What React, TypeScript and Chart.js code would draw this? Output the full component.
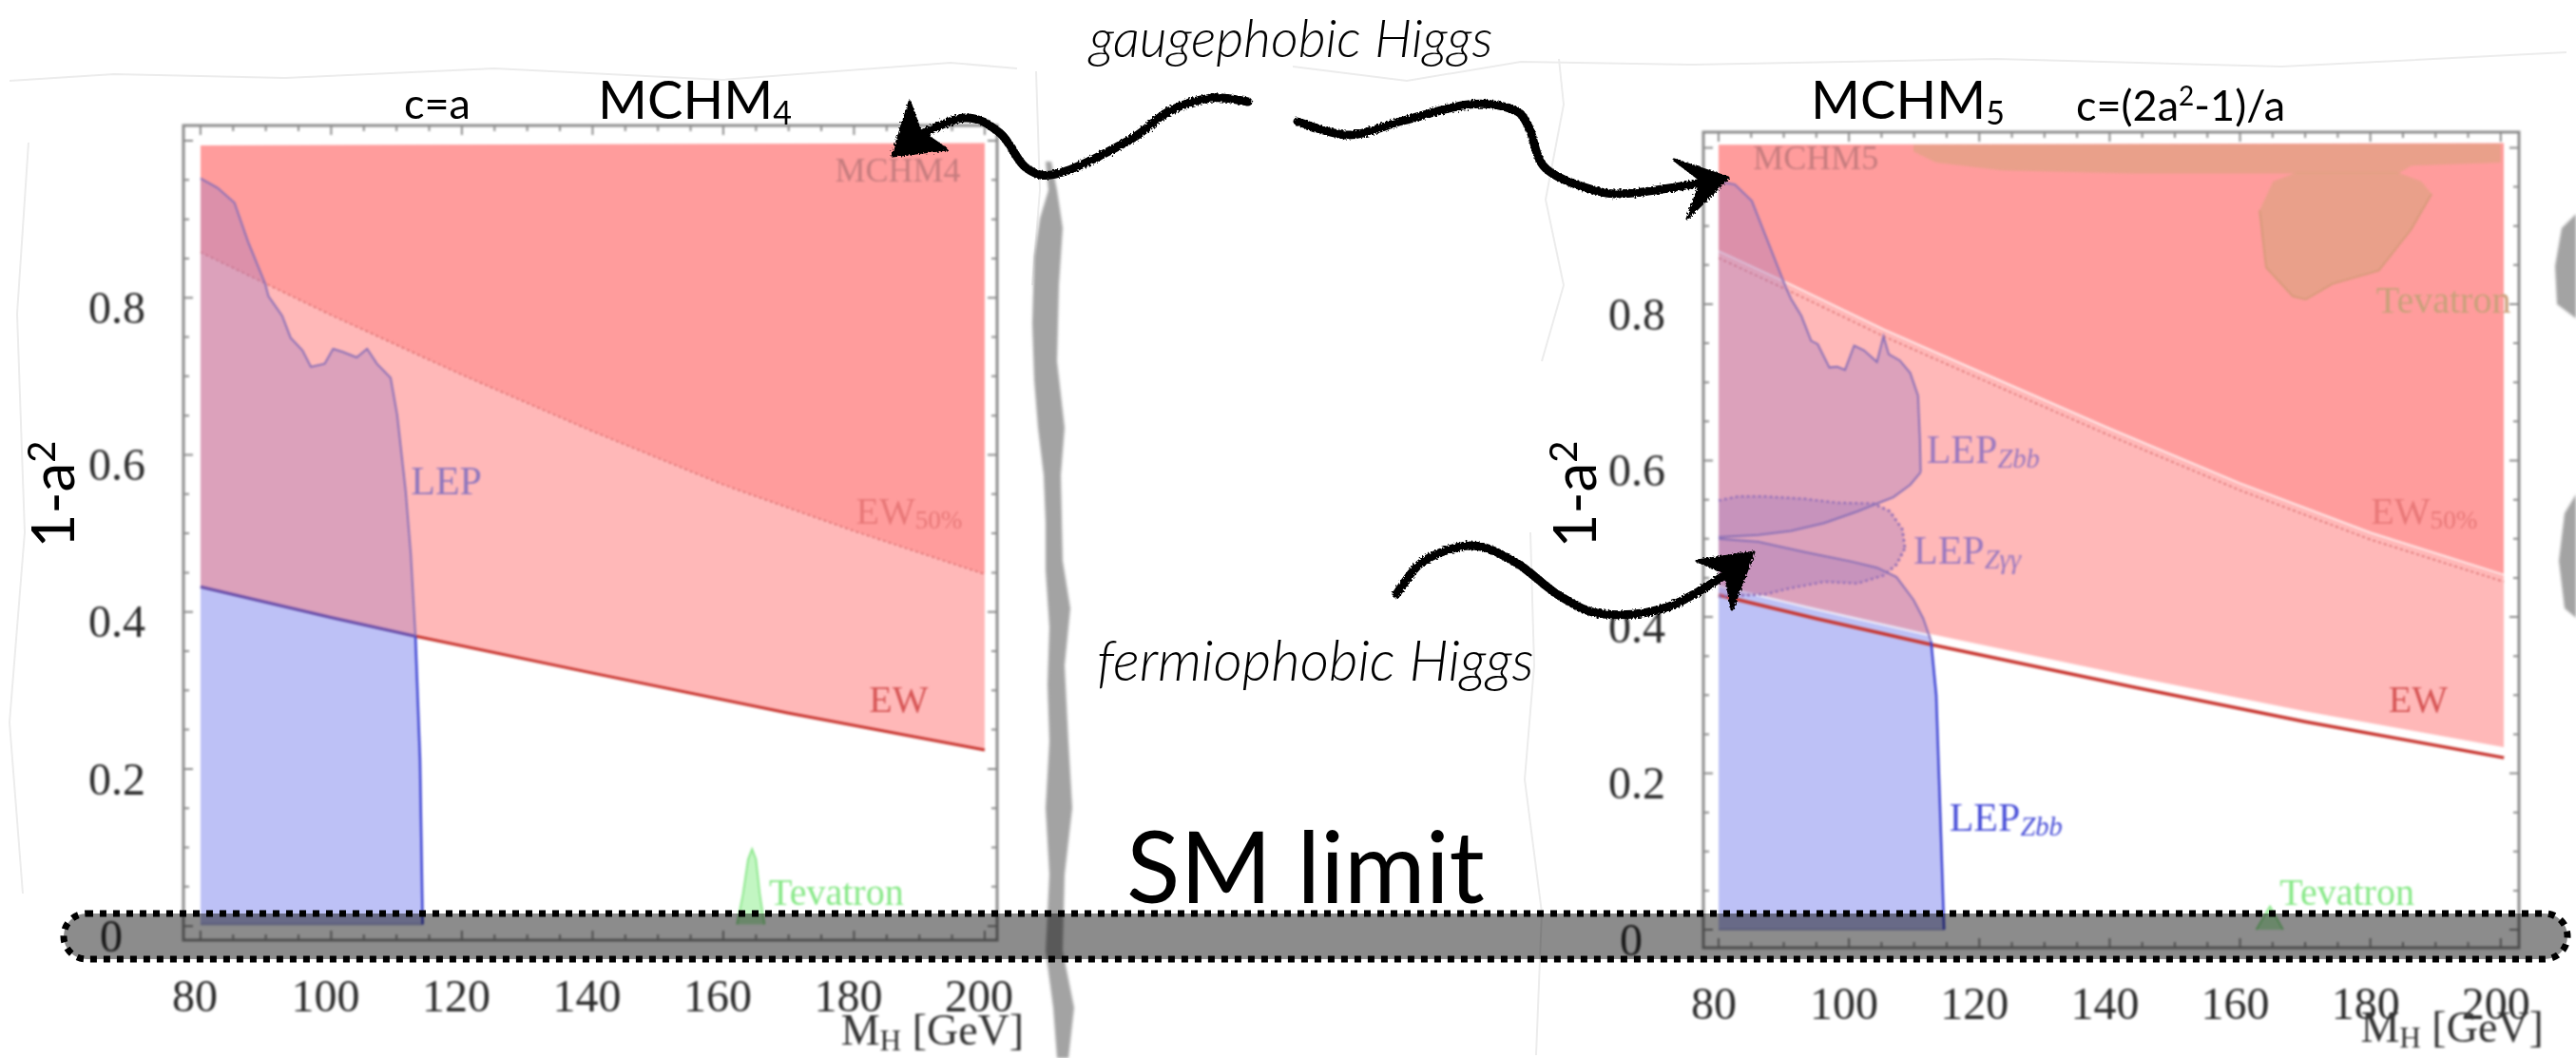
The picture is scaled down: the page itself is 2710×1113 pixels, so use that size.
import React, { useEffect, useLayoutEffect, useRef } from "react";
import { Chart, registerables } from "chart.js";

Chart.register(...registerables);

type Pt = [number, number];

// ---- axis ticks
const xTickValues = [80, 100, 120, 140, 160, 180, 200];
const yTickValues = [0, 0.2, 0.4, 0.6, 0.8];

// ---- MCHM4 panel
const m4Top: Pt[] = [[80, 0.994], [200, 0.997]];
const m4Ew: Pt[] = [[80, 0.432], [100, 0.393], [112.9, 0.369], [140, 0.322], [170, 0.271], [200, 0.224]];
const m4Ew50: Pt[] = [[80, 0.858], [100, 0.778], [120, 0.702], [140, 0.63], [160, 0.562], [180, 0.503], [200, 0.448]];
const m4LepUpper: Pt[] = [[80, 0.952], [82.6, 0.94], [85.2, 0.921], [87.3, 0.871], [89.9, 0.818], [90.4, 0.802], [92.5, 0.777], [93.8, 0.749], [95.6, 0.733], [96.9, 0.712], [99, 0.716], [100.3, 0.735], [101.8, 0.731], [103.9, 0.724], [105.5, 0.735], [107, 0.716], [109.1, 0.698], [110.1, 0.651], [111.4, 0.554], [112.2, 0.472], [112.9, 0.369]];
const m4LepLower: Pt[] = [[112.9, 0.369], [113.6, 0.212], [114, 0.002]];
const m4Tevatron: Pt[] = [[162.1, 0.002], [163, 0.04], [163.8, 0.085], [164.4, 0.098], [165, 0.085], [165.6, 0.04], [166.3, 0.002]];
const m4Base: Pt[] = [[80, 0.002], [114, 0.002]];
const m4TevBase: Pt[] = [[162.1, 0.002], [166.3, 0.002]];

// ---- MCHM5 panel
const m5Top: Pt[] = [[80, 1.004], [200.5, 1.006]];
const m5Ew: Pt[] = [[80, 0.428], [95, 0.398], [112.4, 0.365], [143.8, 0.31], [170, 0.266], [200.5, 0.22]];
const m5EwEdge: Pt[] = [[80, 0.44], [95, 0.41], [112.4, 0.377], [143.8, 0.322], [170, 0.278], [200.5, 0.232]];
const m5Ew50: Pt[] = [[80, 0.859], [91.1, 0.816], [105.3, 0.759], [120, 0.705], [140, 0.632], [160, 0.562], [180, 0.499], [200.5, 0.445]];
const m5Ew50Edge: Pt[] = [[80, 0.868], [91.1, 0.825], [105.3, 0.768], [120, 0.714], [140, 0.641], [160, 0.571], [180, 0.508], [200.5, 0.454]];
const m5ZbbUpper: Pt[] = [[80, 0.957], [82.5, 0.953], [85.1, 0.932], [87.6, 0.879], [90.3, 0.822], [91.1, 0.807], [92.7, 0.785], [94.2, 0.753], [95.2, 0.749], [97, 0.719], [98.2, 0.72], [99.4, 0.716], [100.8, 0.747], [102.3, 0.741], [104.3, 0.726], [105.3, 0.759], [106.1, 0.736], [107.8, 0.728], [109.4, 0.712], [110.6, 0.683], [110.9, 0.626], [111, 0.585]];
const m5ZbbMiddle: Pt[] = [[80, 0.502], [86.1, 0.505], [91.1, 0.51], [96.2, 0.52], [101.3, 0.535], [104.3, 0.545], [106.8, 0.553], [109.4, 0.569], [111, 0.585]];
const m5ZbbLower: Pt[] = [[80, 0.5], [86.1, 0.496], [93.2, 0.483], [100.3, 0.471], [104.3, 0.463], [107.3, 0.451], [109.9, 0.422], [111.4, 0.398], [112.6, 0.369]];
const m5ZbbTail: Pt[] = [[112.6, 0.369], [113.4, 0.3], [113.9, 0.177], [114.6, 0.0]];
const m5ZggUpper: Pt[] = [[80, 0.549], [83, 0.554], [87.1, 0.554], [93.2, 0.551], [98.2, 0.546], [103.8, 0.545], [106.3, 0.535], [108.2, 0.512], [108.6, 0.488]];
const m5ZggLower: Pt[] = [[80, 0.426], [87.1, 0.429], [91.1, 0.437], [96.2, 0.445], [101.3, 0.443], [105.3, 0.453], [107.3, 0.467], [108.6, 0.488]];
const m5TevBandTop: Pt[] = [[109.6, 1.004], [200, 1.005]];
const m5TevBandLow: Pt[] = [[109.9, 0.995], [113.4, 0.981], [123.5, 0.971], [143.8, 0.967], [164, 0.967], [184.3, 0.967], [186.3, 0.977], [200, 0.981]];
const m5TevBlobTop: Pt[] = [[163, 0.92], [165.1, 0.957], [168.6, 0.968], [184.3, 0.968], [187.8, 0.957], [189.4, 0.941]];
const m5TevBlobLow: Pt[] = [[163, 0.92], [164, 0.847], [168.1, 0.81], [170.1, 0.806], [174.2, 0.826], [181.3, 0.843], [186.3, 0.896], [189.4, 0.941]];
const m5TevSmall: Pt[] = [[162.5, 0.0], [164.6, 0.03], [166.6, 0.0]];
const m5TevSmallBase: Pt[] = [[162.5, 0.0], [166.6, 0.0]];
const m5Base: Pt[] = [[80, 0.0], [114.6, 0.0]];

// ---- colours
const PINK = "rgba(255,0,0,0.278)";
const DARK = "rgba(255,0,0,0.152)";
const PURPLE = "rgba(167,124,189,0.4)";
const PURPLE_LINE = "#8a6fb6";
const BLUE_FILL = "#bdc1f6";
const BLUE_LINE = "#3d44d2";
const RED_LINE = "#c8352f";
const GREEN = "rgba(120,235,120,0.45)";
const GREEN_LINE = "#8fe88f";
const BLOB = "rgba(170,170,85,0.26)";
const SERIF = '"Liberation Serif", serif';

type Run = { t: string; sub?: boolean; italic?: boolean };
type Label = { x: number; y: number; runs: Run[]; color: string; size: number };

const m4Labels: Label[] = [
  { x: 177.1, y: 0.959, runs: [{ t: "MCHM4" }], color: "#c67c7e", size: 36 },
  { x: 112.2, y: 0.563, runs: [{ t: "LEP" }], color: "#8f76bd", size: 42 },
  { x: 180.3, y: 0.525, runs: [{ t: "EW" }, { t: "50%", sub: true }], color: "#e87878", size: 40 },
  { x: 182.3, y: 0.285, runs: [{ t: "EW" }], color: "#d65555", size: 40 },
  { x: 167, y: 0.04, runs: [{ t: "Tevatron" }], color: "#86e886", size: 40 },
  { x: 178, y: -0.137, runs: [{ t: "M" }, { t: "H", sub: true }, { t: " [GeV]" }], color: "#333", size: 46 },
];
const m5Labels: Label[] = [
  { x: 85.3, y: 0.984, runs: [{ t: "MCHM5" }], color: "#c67c7e", size: 36 },
  { x: 180.9, y: 0.802, runs: [{ t: "Tevatron" }], color: "#c9a07a", size: 40 },
  { x: 111.9, y: 0.61, runs: [{ t: "LEP" }, { t: "Zbb", sub: true, italic: true }], color: "#9a78bf", size: 42 },
  { x: 109.9, y: 0.481, runs: [{ t: "LEP" }, { t: "Zγγ", sub: true, italic: true }], color: "#9a78bf", size: 42 },
  { x: 180.1, y: 0.532, runs: [{ t: "EW" }, { t: "50%", sub: true }], color: "#e87878", size: 40 },
  { x: 182.8, y: 0.291, runs: [{ t: "EW" }], color: "#d65555", size: 40 },
  { x: 115.4, y: 0.14, runs: [{ t: "LEP" }, { t: "Zbb", sub: true, italic: true }], color: "#4a50d8", size: 42 },
  { x: 166.1, y: 0.045, runs: [{ t: "Tevatron" }], color: "#86e886", size: 40 },
  { x: 178.5, y: -0.129, runs: [{ t: "M" }, { t: "H", sub: true }, { t: " [GeV]" }], color: "#333", size: 46 },
];

const pts = (a: Pt[]) => a.map(([x, y]) => ({ x, y }));

const fillDs = (id: string, d: Pt[], target: number | string | object | boolean, color: string, order: number) => ({
  label: id, data: pts(d), borderWidth: 0, pointRadius: 0, tension: 0, fill: target, backgroundColor: color, order,
});
const lineDs = (id: string, d: Pt[], color: string, width: number, order: number, extra: object = {}) => ({
  label: id, data: pts(d), borderColor: color, borderWidth: width, pointRadius: 0, tension: 0, fill: false, order, ...extra,
});

function m4Datasets() {
  const viaEw = { segment: { borderColor: (c: any) => (c.p0.parsed.x < 112.8 ? "#5a3fa0" : RED_LINE) } };
  return [
    lineDs("EW", m4Ew, RED_LINE, 3, 2, viaEw), // 0
    lineDs("EW 50%", m4Ew50, "#d96a6a", 1.5, 2, { borderDash: [3, 3] }), // 1
    fillDs("MCHM4", m4Top, 0, PINK, 9), // 2
    fillDs("MCHM4 strong", m4Top, 1, DARK, 8), // 3
    fillDs("LEP area", [...m4Ew.filter((p) => p[0] < 112.9), ...m4LepLower], { value: 0.002 }, BLUE_FILL, 10), // 4
    lineDs("LEP", m4LepUpper, PURPLE_LINE, 2, 1, { fill: 0, backgroundColor: PURPLE }), // 5
    lineDs("LEP tail", m4LepLower, BLUE_LINE, 2.5, 1), // 6
    lineDs("Tevatron", m4Tevatron, GREEN_LINE, 2, 3, { fill: 8, backgroundColor: GREEN }), // 7
    lineDs("Tevatron base", m4TevBase, "rgba(0,0,0,0)", 0, 4), // 8
    lineDs("Base", m4Base, "rgba(90,95,176,0.35)", 2, 4), // 9
  ];
}

function m5Datasets() {
  return [
    lineDs("EW", m5Ew, RED_LINE, 3.5, 2), // 0
    lineDs("EW edge", m5EwEdge, "rgba(255,255,255,0.9)", 2.5, 3), // 1
    lineDs("EW 50%", m5Ew50, "#d96a6a", 1.5, 2, { borderDash: [3, 3] }), // 2
    lineDs("EW 50% edge", m5Ew50Edge, "rgba(255,255,255,0.7)", 2, 3), // 3
    fillDs("MCHM5", m5Top, 1, PINK, 9), // 4
    fillDs("MCHM5 strong", m5Top, 3, DARK, 8), // 5
    fillDs("Zbb area", [...m5EwEdge.filter((p) => p[0] < 112.4), [112.4, 0.376], ...m5ZbbTail.slice(1)], { value: 0 }, BLUE_FILL, 10), // 6
    lineDs("Zbb lower", m5ZbbLower, PURPLE_LINE, 2, 1, { fill: 1, backgroundColor: PURPLE }), // 7
    lineDs("Zbb tail", m5ZbbTail, BLUE_LINE, 2.5, 1), // 8
    lineDs("Zbb middle", m5ZbbMiddle, PURPLE_LINE, 2, 1), // 9
    lineDs("Zbb upper", m5ZbbUpper, PURPLE_LINE, 2, 1, { fill: 9, backgroundColor: PURPLE }), // 10
    lineDs("Zgg lower", m5ZggLower, "#8a68b4", 2.5, 1, { borderDash: [3, 3] }), // 11
    lineDs("Zgg upper", m5ZggUpper, "#8a68b4", 2.5, 1, { borderDash: [3, 3], fill: 11, backgroundColor: PURPLE }), // 12
    fillDs("Tevatron band low", m5TevBandLow, false, "rgba(0,0,0,0)", 6), // 13
    fillDs("Tevatron band", m5TevBandTop, 13, BLOB, 6), // 14
    lineDs("Tevatron blob low", m5TevBlobLow, "rgba(190,150,100,0.5)", 2, 5), // 15
    lineDs("Tevatron blob", m5TevBlobTop, "rgba(0,0,0,0)", 0, 5, { fill: 15, backgroundColor: BLOB }), // 16
    lineDs("Tevatron", m5TevSmall, GREEN_LINE, 2, 3, { fill: 18, backgroundColor: GREEN }), // 17
    lineDs("Tevatron base", m5TevSmallBase, "rgba(0,0,0,0)", 0, 4), // 18
    lineDs("Base", m5Base, "rgba(90,95,176,0.35)", 2, 4), // 19
  ];
}

const range = (a: number, b: number, step: number) => {
  const out: number[] = [];
  for (let v = a; v <= b + 1e-9; v += step) out.push(Math.round(v * 1000) / 1000);
  return out;
};

function makeFramePlugin(labels: Label[]) {
  return {
    id: "frameAndLabels",
    afterDraw(chart: any) {
      const { ctx, chartArea: a, scales } = chart;
      ctx.save();
      ctx.strokeStyle = "#8d8d8d";
      ctx.lineWidth = 3;
      ctx.strokeRect(a.left, a.top, a.right - a.left, a.bottom - a.top);
      ctx.lineWidth = 2;
      ctx.beginPath();
      for (const v of range(80, 200, 5)) {
        const p = scales.x.getPixelForValue(v);
        const len = v % 20 === 0 ? 10 : 6;
        ctx.moveTo(p, a.bottom); ctx.lineTo(p, a.bottom - len);
        ctx.moveTo(p, a.top); ctx.lineTo(p, a.top + len);
      }
      for (const v of range(0, 1, 0.05)) {
        const p = scales.y.getPixelForValue(v);
        const len = Math.round(v * 100) % 20 === 0 ? 10 : 6;
        ctx.moveTo(a.left, p); ctx.lineTo(a.left + len, p);
        ctx.moveTo(a.right, p); ctx.lineTo(a.right - len, p);
      }
      ctx.stroke();
      ctx.textBaseline = "middle";
      ctx.textAlign = "left";
      for (const l of labels) {
        let x = scales.x.getPixelForValue(l.x);
        const y = scales.y.getPixelForValue(l.y);
        ctx.fillStyle = l.color;
        for (const r of l.runs) {
          const size = r.sub ? l.size * 0.68 : l.size;
          ctx.font = `${r.italic ? "italic " : ""}${size}px ${SERIF}`;
          ctx.fillText(r.t, x, y + (r.sub ? l.size * 0.2 : 0));
          x += ctx.measureText(r.t).width;
        }
      }
      ctx.restore();
    },
  };
}

type PanelConf = {
  datasets: any[]; labels: Label[];
  xMin: number; xMax: number; yMin: number; yMax: number;
  yWidth: number; xHeight: number; padTop: number; padRight: number;
  xShift: number; width: number; height: number;
};

function Panel({ conf, left, top }: { conf: PanelConf; left: number; top: number }) {
  const ref = useRef<HTMLCanvasElement>(null);
  useEffect(() => {
    const fontTicks = { family: SERIF, size: 48 };
    const chart = new Chart(ref.current!, {
      type: "line",
      data: { datasets: conf.datasets },
      options: {
        animation: false,
        responsive: false,
        maintainAspectRatio: false,
        layout: { padding: { top: conf.padTop, right: conf.padRight, left: 0, bottom: 0 } },
        plugins: { legend: { display: false }, tooltip: { enabled: false } },
        scales: {
          x: {
            type: "linear", min: conf.xMin, max: conf.xMax,
            grid: { display: false }, border: { display: false },
            afterBuildTicks: (s: any) => { s.ticks = xTickValues.map((value) => ({ value })); },
            afterFit: (s: any) => { s.height = conf.xHeight; s.paddingLeft = 0; s.paddingRight = 0; },
            ticks: { color: "#2b2b2b", font: fontTicks, padding: 26, labelOffset: conf.xShift, maxRotation: 0, autoSkip: false, callback: (v: any) => String(v) },
          },
          y: {
            type: "linear", min: conf.yMin, max: conf.yMax,
            grid: { display: false }, border: { display: false },
            afterBuildTicks: (s: any) => { s.ticks = yTickValues.map((value) => ({ value })); },
            afterFit: (s: any) => { s.width = conf.yWidth; s.paddingTop = 0; s.paddingBottom = 0; },
            ticks: { color: "#2b2b2b", font: fontTicks, padding: 32, labelOffset: 14, autoSkip: false, callback: (v: any) => (v === 0 ? "0  " : String(v)) },
          },
        },
      } as any,
      plugins: [makeFramePlugin(conf.labels)],
    } as any);
    return () => chart.destroy();
  }, []);
  return <canvas ref={ref} width={conf.width} height={conf.height} style={{ position: "absolute", left, top, width: conf.width, height: conf.height, filter: "blur(0.8px)" }} />;
}

function smooth(p: Pt[]) {
  let d = `M${p[0][0]} ${p[0][1]}`;
  for (let i = 0; i < p.length - 1; i++) {
    const a = p[Math.max(0, i - 1)], b = p[i], c = p[i + 1], e = p[Math.min(p.length - 1, i + 2)];
    d += ` C${b[0] + (c[0] - a[0]) / 6} ${b[1] + (c[1] - a[1]) / 6} ${c[0] - (e[0] - b[0]) / 6} ${c[1] - (e[1] - b[1]) / 6} ${c[0]} ${c[1]}`;
  }
  return d;
}
const poly = (p: Pt[]) => p.map((q) => q.join(",")).join(" ");

const arrowRight: Pt[] = [[1365, 128], [1419, 142], [1476, 127], [1545, 110], [1591, 115], [1608, 133], [1626, 177], [1677, 200], [1718, 203], [1804, 190]];
const arrowRightHead: Pt[] = [[1818, 187], [1761, 168], [1790, 190], [1775, 230]];
const arrowLeft: Pt[] = [[1313, 107], [1275, 103], [1230, 117], [1189, 147], [1115, 182], [1080, 177], [1052, 140], [1014, 124], [957, 147]];
const arrowLeftHead: Pt[] = [[939, 164], [957, 107], [968, 138], [996, 157]];
const arrowFermi: Pt[] = [[1469, 625], [1498, 590], [1549, 574], [1595, 592], [1641, 627], [1687, 646], [1756, 638], [1830, 595]];
const arrowFermiHead: Pt[] = [[1845, 581], [1785, 590], [1815, 602], [1822, 641]];
const tornMiddle: Pt[] = [[1100, 170], [1103, 200], [1094, 230], [1088, 270], [1086, 340], [1088, 400], [1092, 450], [1098, 500], [1100, 550], [1100, 600], [1104, 660], [1102, 720], [1104, 780], [1100, 850], [1104, 920], [1100, 1000], [1108, 1060], [1112, 1113], [1124, 1113], [1130, 1060], [1118, 1000], [1120, 920], [1128, 850], [1124, 780], [1120, 700], [1126, 640], [1118, 590], [1116, 500], [1120, 450], [1112, 380], [1114, 300], [1118, 240], [1112, 200], [1106, 170]];
const tornRightA: Pt[] = [[2710, 225], [2695, 240], [2688, 280], [2690, 320], [2710, 335]];
const tornRightB: Pt[] = [[2710, 520], [2698, 540], [2692, 590], [2698, 640], [2710, 650]];
const tearLines: Pt[][] = [
  [[10, 85], [120, 78], [300, 82], [520, 72], [760, 84], [1000, 66], [1070, 72]],
  [[1090, 75], [1094, 200], [1086, 300]],
  [[1640, 62], [1645, 110], [1626, 210], [1645, 300], [1622, 380]],
  [[1610, 560], [1614, 700], [1604, 820], [1622, 960], [1616, 1110]],
  [[1360, 70], [1480, 85], [1600, 65], [1780, 68], [2100, 62], [2400, 70], [2700, 55]],
  [[30, 150], [18, 330], [26, 560], [10, 760], [24, 940]],
];

const baseText: React.CSSProperties = { position: "absolute", whiteSpace: "nowrap", color: "#000", lineHeight: 1, fontFamily: "Lato, sans-serif" };
const hand: React.CSSProperties = { ...baseText, fontFamily: "Lato, sans-serif", fontStyle: "italic", fontWeight: 300 };

export default function App() {
  useLayoutEffect(() => { document.body.style.margin = "0"; }, []);
  const m4: PanelConf = {
    datasets: m4Datasets(), labels: m4Labels,
    xMin: 77.4, xMax: 201.9, yMin: -0.018, yMax: 1.0194,
    yWidth: 193, xHeight: 124, padTop: 32, padRight: 81, xShift: -6, width: 1130, height: 1013,
  };
  const m5: PanelConf = {
    datasets: m5Datasets(), labels: m5Labels,
    xMin: 77.67, xMax: 202.8, yMin: -0.023, yMax: 1.02,
    yWidth: 192, xHeight: 116, padTop: 39, padRight: 60, xShift: -5, width: 1110, height: 1013,
  };
  return (
    <div style={{ position: "relative", width: 2710, height: 1113, background: "#fff", overflow: "hidden" }}>
      <svg width={2710} height={1113} style={{ position: "absolute", left: 0, top: 0 }}>
        {tearLines.map((t, i) => <polyline key={i} points={poly(t)} fill="none" stroke="#ececec" strokeWidth={2} />)}
        <polygon points={poly(tornMiddle)} fill="#a3a3a3" style={{ filter: "blur(1.5px)" }} />
        <polygon points={poly(tornRightA)} fill="#a3a3a3" style={{ filter: "blur(1.5px)" }} />
        <polygon points={poly(tornRightB)} fill="#a3a3a3" style={{ filter: "blur(1.5px)" }} />
      </svg>
      <Panel conf={m4} left={0} top={100} />
      <Panel conf={m5} left={1600} top={100} />
      <svg width={2710} height={1113} style={{ position: "absolute", left: 0, top: 0 }}>
        <defs>
          <filter id="rough" x="-5%" y="-5%" width="110%" height="110%">
            <feTurbulence type="fractalNoise" baseFrequency="0.5" numOctaves="2" seed="3" result="n" />
            <feDisplacementMap in="SourceGraphic" in2="n" scale="5" />
          </filter>
        </defs>
        <rect x={67} y={961} width={2634} height={48} rx={24} ry={24} fill="rgba(0,0,0,0.45)" stroke="#000" strokeWidth={7} strokeDasharray="7 7" />
        <g filter="url(#rough)" fill="none" stroke="#000" strokeWidth={9} strokeLinecap="round" strokeLinejoin="round">
          <path d={smooth(arrowRight)} />
          <path d={smooth(arrowLeft)} />
          <path d={smooth(arrowFermi)} />
          <polygon points={poly(arrowRightHead)} fill="#000" strokeWidth={3} />
          <polygon points={poly(arrowLeftHead)} fill="#000" strokeWidth={3} />
          <polygon points={poly(arrowFermiHead)} fill="#000" strokeWidth={3} />
        </g>
      </svg>
      <div style={{ ...baseText, left: 629, top: 76, fontSize: 56 }}>MCHM<sub style={{ fontSize: 34, verticalAlign: -6 }}>4</sub></div>
      <div style={{ ...baseText, left: 425, top: 86, fontSize: 45 }}>c=a</div>
      <div style={{ ...baseText, left: 1905, top: 76, fontSize: 56 }}>MCHM<sub style={{ fontSize: 34, verticalAlign: -6 }}>5</sub></div>
      <div style={{ ...baseText, left: 2184, top: 86, fontSize: 45 }}>c=(2a<sup style={{ fontSize: 28, verticalAlign: 16 }}>2</sup>-1)/a</div>
      <div style={{ ...baseText, left: 54, top: 520, fontSize: 62, transform: "translate(-50%,-50%) rotate(-90deg)" }}>1-a<sup style={{ fontSize: 40, verticalAlign: 20 }}>2</sup></div>
      <div style={{ ...baseText, left: 1655, top: 520, fontSize: 62, transform: "translate(-50%,-50%) rotate(-90deg)" }}>1-a<sup style={{ fontSize: 40, verticalAlign: 20 }}>2</sup></div>
      <div style={{ ...baseText, left: 1185, top: 858, fontSize: 104 }}>SM limit</div>
      <div style={{ ...hand, left: 1146, top: 11, fontSize: 56 }}>gaugephobic Higgs</div>
      <div style={{ ...hand, left: 1154, top: 664, fontSize: 59 }}>fermiophobic Higgs</div>
    </div>
  );
}
